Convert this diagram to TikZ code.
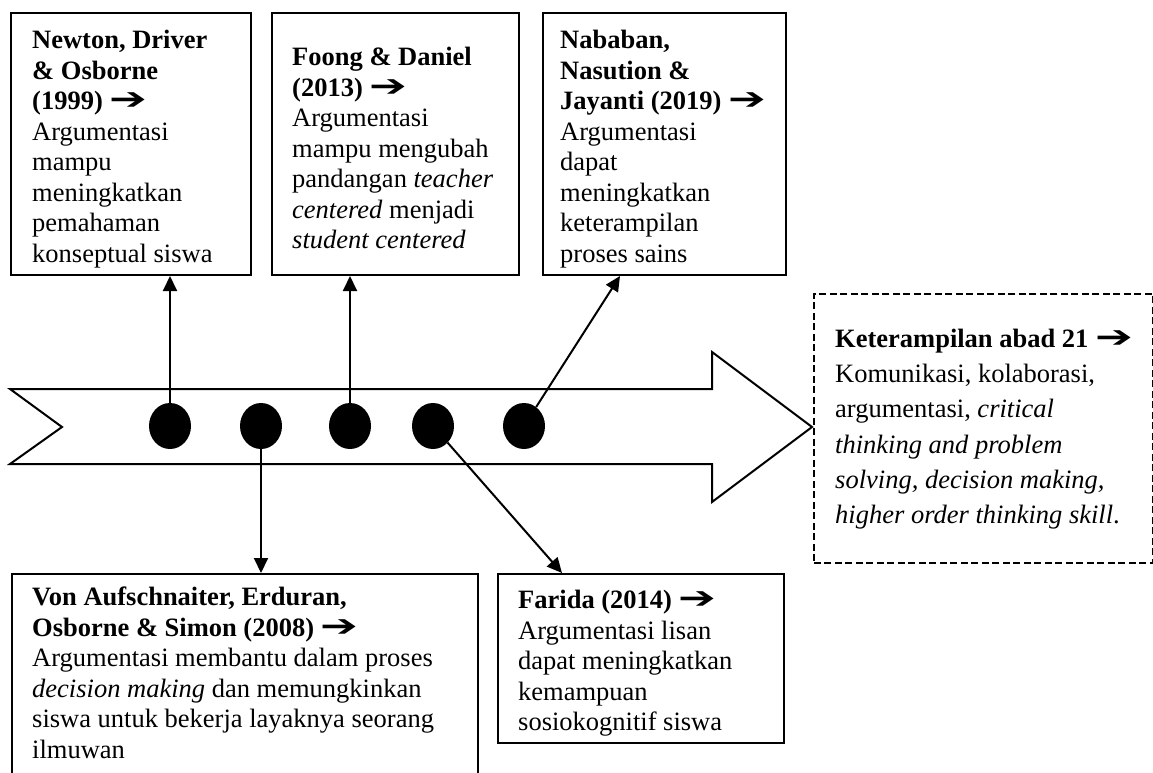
\documentclass[tikz,border=0pt]{standalone}
\usepackage{fontspec}
\usepackage{graphicx}
\setmainfont{Liberation Serif}
\newfontfamily\panahfont{DejaVu Sans}
\usetikzlibrary{arrows.meta,shapes.geometric}
\newcommand{\arah}{{\panahfont\scalebox{1.7}[1.15]{➔}}}
\begin{document}
\begin{tikzpicture}[x=1pt,y=-1pt,line join=miter,
	garis/.style={draw,line width=2pt},
	kotak/.style={draw,line width=2pt,anchor=north west,inner sep=0},
	kotak putus/.style={kotak,line width=1.5pt,dash pattern=on 7pt off 3.5pt},
	teks/.style={anchor=north west,inner sep=0,align=left,font=\fontsize{26.5}{30.5}\selectfont},
	titik/.style={ellipse,fill=black,inner sep=0,minimum width=42,minimum height=46},
	panah/.style={line width=2pt,-{Triangle[length=15pt,width=14pt]}}]
	\useasboundingbox (0,0) rectangle (1153,773);
	\clip (0,0) rectangle (1153,773);
	% Panah waktu
	\draw[garis,fill=white] (10,389) -- (712,389) -- (712,352) -- (812,427) -- (712,502) -- (712,464) -- (10,464) -- (62,427) -- cycle;
	% Kotak atas
	\node[kotak,minimum width=240,minimum height=262] (b1) at (10,12) {};
	\node[kotak,minimum width=247,minimum height=262] (b2) at (271,12) {};
	\node[kotak,minimum width=243,minimum height=262] (b3) at (542,12) {};
	% Kotak bawah
	\node[kotak,minimum width=466,minimum height=230] (b4) at (11,573) {};
	\node[kotak,minimum width=286,minimum height=169] (b5) at (497,573) {};
	% Kotak abad 21
	\node[kotak putus,minimum width=339,minimum height=269] (b6) at (813,293) {};
	% Isi kotak
	\begin{scope}
		\clip (b1.north west) rectangle (b1.south east);
		\node[teks] (t1) at (32,30) {\textbf{Newton, Driver}\\\textbf{\& Osborne}\\\textbf{(1999)} \arah\\Argumentasi\\mampu\\meningkatkan\\pemahaman\\konseptual siswa};
	\end{scope}
	\begin{scope}
		\clip (b2.north west) rectangle (b2.south east);
		\node[teks] (t2) at (292,47) {\textbf{Foong \& Daniel}\\\textbf{(2013)} \arah\\Argumentasi\\mampu mengubah\\pandangan \textit{teacher}\\\textit{centered} menjadi\\\textit{student centered}};
	\end{scope}
	\begin{scope}
		\clip (b3.north west) rectangle (b3.south east);
		\node[teks] (t3) at (560,30) {\textbf{Nababan,}\\\textbf{Nasution \&}\\\textbf{Jayanti (2019)} \arah\\Argumentasi\\dapat\\meningkatkan\\keterampilan\\proses sains};
	\end{scope}
	\begin{scope}
		\clip (b4.north west) rectangle (b4.south east);
		\node[teks] (t4) at (32,587) {\textbf{Von Aufschnaiter, Erduran,}\\\textbf{Osborne \& Simon (2008)} \arah\\Argumentasi membantu dalam proses\\\textit{decision making} dan memungkinkan\\siswa untuk bekerja layaknya seorang\\ilmuwan};
	\end{scope}
	\begin{scope}
		\clip (b5.north west) rectangle (b5.south east);
		\node[teks] (t5) at (518,590) {\textbf{Farida (2014)} \arah\\Argumentasi lisan\\dapat meningkatkan\\kemampuan\\sosiokognitif siswa};
	\end{scope}
	\node[teks,font=\fontsize{26.5}{35.2}\selectfont] (t6) at (835,329) {\textbf{Keterampilan abad 21} \arah\\Komunikasi, kolaborasi,\\argumentasi, \textit{critical}\\\textit{thinking and problem}\\\textit{solving, decision making,}\\\textit{higher order thinking skill}.};
	% Titik
	\node[titik] (d1) at (170,426) {};
	\node[titik] (d2) at (261,426) {};
	\node[titik] (d3) at (350,426) {};
	\node[titik] (d4) at (433,426) {};
	\node[titik] (d5) at (524,426) {};
	\coordinate (u3) at (620,276);
	\coordinate (u5) at (562,573);
	% Penghubung
	\draw[panah] (d1) -- (d1 |- b1.south);
	\draw[panah] (d3) -- (d3 |- b2.south);
	\draw[panah] (d5) -- (u3);
	\draw[panah] (d2) -- (d2 |- b4.north);
	\draw[panah] (d4) -- (u5);
\end{tikzpicture}
\end{document}
